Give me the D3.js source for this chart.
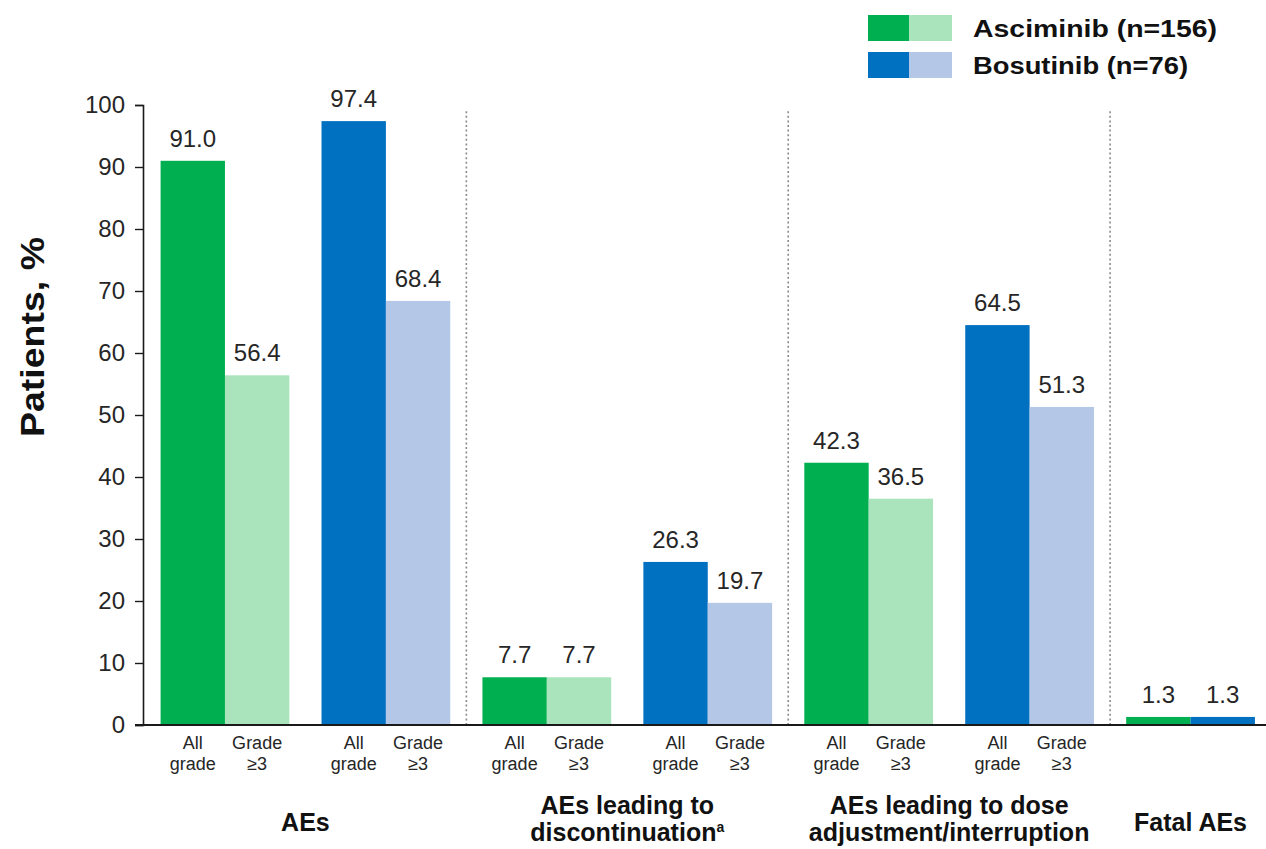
<!DOCTYPE html>
<html>
<head>
<meta charset="utf-8">
<script src="https://cdn.jsdelivr.net/npm/d3@7"></script>
<style>
  html, body { margin: 0; padding: 0; background: #fff; }
  svg { display: block; font-family: "Liberation Sans", Arial, sans-serif; }
</style>
</head>
<body>
<svg id="chart" width="1266" height="849"></svg>
<script>
// ---- data ----
const categories = ["AEs", "AEs leading to discontinuation", "AEs leading to dose adjustment/interruption", "Fatal AEs"];
const categoryLines = [["AEs"], ["AEs leading to", "discontinuation"], ["AEs leading to dose", "adjustment/interruption"], ["Fatal AEs"]];
const categoryNotes = ["", "a", "", ""];
const seriesNames = ["Asciminib (n=156)", "Bosutinib (n=76)"];
const asciminibAll = [91.0, 7.7, 42.3, 1.3];
const asciminibG3  = [56.4, 7.7, 36.5, null];
const bosutinibAll = [97.4, 26.3, 64.5, 1.3];
const bosutinibG3  = [68.4, 19.7, 51.3, null];
const gradeLabels = [["All", "grade"], ["Grade", "\u22653"]];
const yTicks = [0, 10, 20, 30, 40, 50, 60, 70, 80, 90, 100];

const colors = {
  ascAll: "#00b050", ascG3: "#a9e4bc",
  bosAll: "#0070c0", bosG3: "#b4c7e7"
};

// ---- build pairs ----
const pairs = [];
categories.forEach((c, i) => {
  if (asciminibG3[i] == null) {
    pairs.push({ key: c + "|both", cat: i, sub: false, bars: [
      { v: asciminibAll[i], color: colors.ascAll },
      { v: bosutinibAll[i], color: colors.bosAll }
    ]});
  } else {
    pairs.push({ key: c + "|asc", cat: i, sub: true, bars: [
      { v: asciminibAll[i], color: colors.ascAll },
      { v: asciminibG3[i], color: colors.ascG3 }
    ]});
    pairs.push({ key: c + "|bos", cat: i, sub: true, bars: [
      { v: bosutinibAll[i], color: colors.bosAll },
      { v: bosutinibG3[i], color: colors.bosG3 }
    ]});
  }
});

const svg = d3.select("#chart");
const axisX = 143, yBase = 725, yTop = 105;

const x = d3.scaleBand().domain(pairs.map(p => p.key))
  .range([144.5, 1271]).paddingInner(0.2).paddingOuter(0.1);
const xs = d3.scaleBand().domain([0, 1]).range([0, x.bandwidth()]).padding(0);
const y = d3.scaleLinear().domain([0, 100]).range([yBase, yTop]);

// separators
const sepX = [];
for (let i = 0; i < pairs.length - 1; i++) {
  if (pairs[i].cat !== pairs[i + 1].cat) {
    sepX.push((x(pairs[i].key) + x.bandwidth() + x(pairs[i + 1].key)) / 2);
  }
}
svg.append("g").selectAll("line").data(sepX).join("line")
  .attr("x1", d => d).attr("x2", d => d)
  .attr("y1", y(99)).attr("y2", yBase)
  .attr("stroke", "#8a8a8a").attr("stroke-width", 1.6)
  .attr("stroke-dasharray", "2,2.6");

// bars
const pg = svg.append("g").selectAll("g").data(pairs).join("g")
  .attr("transform", d => `translate(${x(d.key)},0)`);
pg.selectAll("rect").data(d => d.bars).join("rect")
  .attr("x", (d, i) => xs(i))
  .attr("width", xs.bandwidth())
  .attr("y", d => y(d.v))
  .attr("height", d => yBase - y(d.v))
  .attr("fill", d => d.color);
pg.selectAll("text.val").data(d => d.bars).join("text")
  .attr("class", "val")
  .attr("x", (d, i) => xs(i) + xs.bandwidth() / 2)
  .attr("y", d => y(d.v) - 14)
  .attr("text-anchor", "middle")
  .attr("font-size", 24)
  .attr("fill", "#262626")
  .text(d => d3.format(".1f")(d.v));

// grade sub labels
pg.filter(d => d.sub).each(function () {
  const g = d3.select(this);
  gradeLabels.forEach((lines, i) => {
    const t = g.append("text")
      .attr("x", xs(i) + xs.bandwidth() / 2)
      .attr("text-anchor", "middle")
      .attr("font-size", 18)
      .attr("fill", "#262626");
    lines.forEach((ln, j) => {
      t.append("tspan").attr("x", xs(i) + xs.bandwidth() / 2)
        .attr("y", 749 + j * 21).text(ln);
    });
  });
});

// y axis
const yAxis = d3.axisLeft(y).tickValues(yTicks).tickSize(8).tickPadding(10);
const ya = svg.append("g").attr("transform", `translate(${axisX},0)`).call(yAxis);
ya.select(".domain").attr("stroke", "#1a1a1a").attr("stroke-width", 1.6);
ya.selectAll(".tick line").attr("stroke", "#1a1a1a").attr("stroke-width", 1.4);
ya.selectAll(".tick text").attr("font-size", 24).attr("fill", "#262626")
  .attr("font-family", "Liberation Sans, Arial, sans-serif");

// baseline
svg.append("line").attr("x1", axisX - 8).attr("x2", 1266)
  .attr("y1", yBase).attr("y2", yBase)
  .attr("stroke", "#1a1a1a").attr("stroke-width", 2);

// category labels
categoryLines.forEach((lines, ci) => {
  const ps = pairs.filter(p => p.cat === ci);
  const cx = (x(ps[0].key) + x(ps[ps.length - 1].key) + x.bandwidth()) / 2;
  const t = svg.append("text").attr("text-anchor", "middle")
    .attr("font-size", 25).attr("font-weight", "bold").attr("fill", "#111");
  const y0 = lines.length === 1 ? 831 : 814;
  lines.forEach((ln, j) => {
    t.append("tspan").attr("x", cx).attr("y", y0 + j * 27).text(ln);
    if (j === lines.length - 1 && categoryNotes[ci]) {
      t.append("tspan").attr("font-size", 14).attr("dy", -9).text(categoryNotes[ci]);
    }
  });
});

// y label
svg.append("text")
  .attr("transform", "translate(44,337) rotate(-90)")
  .attr("text-anchor", "middle")
  .attr("font-size", 34).attr("font-weight", "bold").attr("fill", "#111")
  .attr("textLength", 200).attr("lengthAdjust", "spacingAndGlyphs")
  .text("Patients, %");

// legend
const legend = [
  { name: seriesNames[0], c1: colors.ascAll, c2: colors.ascG3, y: 15 },
  { name: seriesNames[1], c1: colors.bosAll, c2: colors.bosG3, y: 52 }
];
const lg = svg.append("g").selectAll("g").data(legend).join("g");
lg.append("rect").attr("x", 868).attr("y", d => d.y).attr("width", 41).attr("height", 26).attr("fill", d => d.c1);
lg.append("rect").attr("x", 909).attr("y", d => d.y).attr("width", 43).attr("height", 26).attr("fill", d => d.c2);
lg.append("text").attr("x", 973).attr("y", d => d.y + 22)
  .attr("font-size", 23).attr("font-weight", "bold").attr("fill", "#111")
  .attr("textLength", (d, i) => i === 0 ? 244 : 215).attr("lengthAdjust", "spacingAndGlyphs")
  .text(d => d.name);
</script>
</body>
</html>
